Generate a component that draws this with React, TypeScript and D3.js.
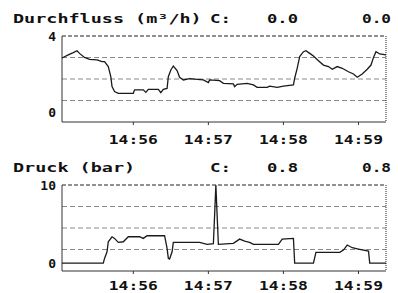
import React from 'react';
import * as d3 from 'd3';

// Durchfluss (m³/h)
const flowTime = [
  '14:55:03', '14:55:08', '14:55:12', '14:55:15', '14:55:17', '14:55:21', '14:55:25', '14:55:31',
  '14:55:35', '14:55:37', '14:55:40', '14:55:42', '14:55:43', '14:55:45', '14:55:48', '14:56:00',
  '14:56:01', '14:56:08', '14:56:10', '14:56:12', '14:56:20', '14:56:22', '14:56:24', '14:56:27',
  '14:56:28', '14:56:30', '14:56:32', '14:56:35', '14:56:37', '14:56:40', '14:56:45', '14:56:51',
  '14:56:56', '14:57:00', '14:57:01', '14:57:09', '14:57:12', '14:57:20', '14:57:21', '14:57:23',
  '14:57:31', '14:57:36', '14:57:39', '14:57:47', '14:57:49', '14:57:55', '14:58:00', '14:58:08',
  '14:58:09', '14:58:11', '14:58:13', '14:58:16', '14:58:18', '14:58:21', '14:58:24', '14:58:28',
  '14:58:32', '14:58:36', '14:58:39', '14:58:43', '14:58:47', '14:58:52', '14:58:56', '14:58:59',
  '14:59:03', '14:59:07', '14:59:10', '14:59:12', '14:59:14', '14:59:17', '14:59:22'
];
const flowValue = [
  2.85, 3.01, 3.13, 3.23, 3.09, 2.88, 2.78, 2.75,
  2.66, 2.66, 2.40, 1.87, 1.35, 1.09, 1.00, 1.00,
  1.18, 1.18, 1.05, 1.21, 1.21, 1.04, 1.21, 1.26,
  1.87, 2.22, 2.43, 2.19, 1.84, 1.70, 1.77, 1.73,
  1.70, 1.56, 1.70, 1.66, 1.52, 1.49, 1.35, 1.47,
  1.52, 1.44, 1.31, 1.31, 1.38, 1.31, 1.38, 1.44,
  1.79, 2.31, 2.92, 3.18, 3.23, 3.09, 2.95, 2.71,
  2.48, 2.40, 2.26, 2.40, 2.31, 2.13, 2.01, 1.84,
  2.01, 2.26, 2.48, 2.88, 3.18, 3.06, 3.01
];

// Druck (bar)
const pressureTime = [
  '14:55:03', '14:55:36', '14:55:37', '14:55:39', '14:55:40', '14:55:43', '14:55:45', '14:55:48',
  '14:55:52', '14:55:56', '14:56:05', '14:56:08', '14:56:11', '14:56:25', '14:56:27', '14:56:28',
  '14:56:29', '14:56:31', '14:56:32', '14:56:53', '14:56:59', '14:57:04', '14:57:05', '14:57:06',
  '14:57:07', '14:57:08', '14:57:20', '14:57:25', '14:57:29', '14:57:33', '14:57:36', '14:57:56',
  '14:57:59', '14:58:08', '14:58:09', '14:58:24', '14:58:26', '14:58:45', '14:58:48', '14:58:51',
  '14:58:55', '14:59:00', '14:59:08', '14:59:09', '14:59:22'
];
const pressureValue = [
  0, 0, 0.61, 1.46, 2.74, 3.38, 3.17, 2.66,
  2.74, 3.38, 3.38, 3.17, 3.51, 3.51, 1.89, 0.61,
  0.53, 1.46, 2.66, 2.66, 2.40, 2.49, 6.15, 10,
  6.15, 2.40, 2.53, 3.08, 2.83, 2.66, 2.40, 2.40,
  3.08, 3.17, 0, 0, 1.38, 1.38, 1.68, 2.32,
  1.98, 1.81, 1.55, 0, 0
];

const tickLabels = ['14:56', '14:57', '14:58', '14:59'];
const timeStart = '14:55:03';
const timeEnd = '14:59:22';

const parse = d3.timeParse('%H:%M:%S');
const tickParse = d3.timeParse('%H:%M');
const FONT = "'DejaVu Sans Mono', 'Liberation Mono', monospace";

interface PanelProps {
  title: string;
  cur: string;
  top: number;
  bottom: number;
  domain: [number, number];
  maxLabel: string;
  times: string[];
  values: number[];
  tickGap: number;
}

const x = d3.scaleTime()
  .domain([parse(timeStart)!, parse(timeEnd)!])
  .range([62, 386]);

const Label = ({ x: lx, y, text, w, anchor = 'start' }: { x: number; y: number; text: string; w: number; anchor?: string }) => (
  <text x={lx} y={y} fontFamily={FONT} fontWeight="bold" fontSize={13} fill="#111"
    textAnchor={anchor} dominantBaseline="central"
    textLength={w} lengthAdjust="spacingAndGlyphs">{text}</text>
);

const Panel = ({ title, cur, top, bottom, domain, maxLabel, times, values, tickGap }: PanelProps) => {
  const y = d3.scaleLinear().domain(domain).range([bottom, top]);
  const [x0, x1] = x.range();
  const pts = times.map((t, i) => ({ t: parse(t)!, v: values[i] }));
  const line = d3.line<{ t: Date; v: number }>()
    .x(d => x(d.t))
    .y(d => y(d.v));
  // grid sits at equal quarters of the plot height
  const grid = [1, 2, 3].map(i => top + (bottom - top) * i / 4);

  return (
    <g>
      <Label x={13} y={top - 18} text={title} w={title.length * 11.1} />
      <Label x={210} y={top - 18} text="C:" w={21} />
      <Label x={267} y={top - 18} text={cur} w={31} />
      <Label x={362} y={top - 18} text={cur} w={29} />

      {grid.map(g => (
        <line key={g} x1={x0} x2={x1} y1={g} y2={g} stroke="#8a8a8a" strokeWidth={1} strokeDasharray="5,3" />
      ))}
      <line x1={x0} x2={x1} y1={top} y2={top} stroke="#222" strokeWidth={1} strokeDasharray="4,2" />
      <line x1={x1} x2={x1} y1={top} y2={bottom} stroke="#222" strokeWidth={1} strokeDasharray="1,1" />
      <line x1={x0} x2={x0} y1={top} y2={bottom} stroke="#333" strokeWidth={1} />
      <line x1={x0} x2={x1} y1={bottom} y2={bottom} stroke="#333" strokeWidth={1} />

      <text x={56} y={y(domain[1])} fontFamily={FONT} fontWeight="bold" fontSize={13} fill="#111"
        textAnchor="end" dominantBaseline="central">{maxLabel}</text>
      <text x={56} y={y(0)} fontFamily={FONT} fontWeight="bold" fontSize={13} fill="#111"
        textAnchor="end" dominantBaseline="central">0</text>

      {tickLabels.map(l => {
        const tx = x(tickParse(l)!);
        return (
          <g key={l}>
            <line x1={tx} x2={tx} y1={bottom} y2={bottom + 3} stroke="#333" />
            <Label x={tx} y={bottom + tickGap} text={l} w={49} anchor="middle" />
          </g>
        );
      })}

      <path d={line(pts) ?? ''} fill="none" stroke="#1a1a1a" strokeWidth={1.3} strokeLinejoin="miter" />
    </g>
  );
};

export default function App() {
  return (
    <svg width={398} height={293} style={{ position: 'absolute', left: 0, top: 0, background: '#fff' }}>
      <rect width={398} height={293} fill="#fff" />
      <Panel title="Durchfluss (m³/h)" cur="0.0" top={36} bottom={122} domain={[-0.5, 4]}
        maxLabel="4" times={flowTime} values={flowValue} tickGap={17} />
      <Panel title="Druck (bar)" cur="0.8" top={185} bottom={271} domain={[-1, 10]}
        maxLabel="10" times={pressureTime} values={pressureValue} tickGap={14} />
    </svg>
  );
}
